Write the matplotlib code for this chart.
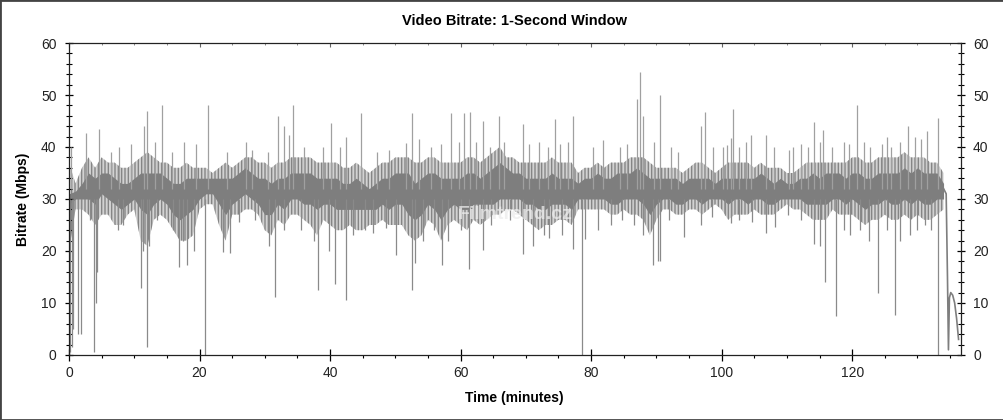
import numpy as np
import matplotlib
matplotlib.use("Agg")
import matplotlib.pyplot as plt
from matplotlib.ticker import MultipleLocator
from matplotlib.patches import Rectangle

plt.rcParams['font.family'] = ['Liberation Sans', 'DejaVu Sans']
plt.rcParams['hatch.linewidth'] = 1.0

# ---------------- data ----------------
minutes = list(range(0, 135))

core_lo = [29,30,30,30,29,31,30,29,28,29,
           30,28,27,29,30,29,27,26,27,28,
           30,31,31,29,27,29,30,31,30,29,
           27,27,29,28,30,30,29,29,28,29,
           29,28,28,28,28,28,28,28,29,28,
           29,29,27,26,27,29,28,26,28,29,
           28,28,29,29,29,29,30,30,30,30,
           29,29,28,28,29,29,29,28,30,30,
           30,30,30,29,29,30,30,30,29,27,
           29,30,30,29,29,30,30,29,30,30,
           30,29,30,30,29,30,30,29,29,30,
           30,30,30,29,29,29,29,30,30,29,
           30,29,28,29,29,30,29,29,30,29,
           30,29,29,30,30]
core_hi = [31,31.5,33,35,34,35,35,34,33,33,
           34,35,35,35,35,34,33,33,34,34,
           34,34,34,34,34,34,35,36,35,34,
           34,33,34,34,35,35,35,35,34,34,
           34,34,33,33,34,33,32,33,34,34,
           35,35,35,33,34,35,35,34,34,34,
           34,35,35,34,35,36,37,36,35,35,
           34,34,34,34,35,34,34,34,33,34,
           34,35,34,34,35,35,35,36,35,34,
           34,34,34,34,33,34,34,34,34,33,
           34,34,34,34,34,34,35,34,33,34,
           33,33,34,34,35,34,35,35,35,34,
           35,35,34,34,35,35,35,35,36,35,
           36,35,35,35,33]
outer_lo = [20,28,28,27,25,27,27,25,25,27,
            28,22,21,26,27,26,24,22,22,23,
            28,29,29,25,22,27,27,28,28,27,
            24,23,26,25,27,27,26,25,23,26,
            25,24,24,25,24,24,25,25,26,25,
            25,25,23,22,23,26,25,22,25,26,
            25,24,26,25,26,27,27,28,28,27,
            26,25,24,25,25,26,26,25,28,28,
            28,28,28,27,27,28,27,27,26,23,
            26,28,28,27,27,28,28,27,28,29,
            28,26,27,27,27,28,27,27,27,28,
            29,28,28,27,26,26,26,28,27,27,
            27,26,25,26,26,27,26,26,27,26,
            27,26,26,27,28]
outer_hi = [37,33,36,38,36,38,37,37,36,36,
            37,38,39,38,37,37,36,36,37,36,
            36,36,35,36,37,36,37,38,38,37,
            37,36,37,37,38,38,38,38,37,37,
            37,37,36,36,37,36,35,36,37,37,
            38,38,38,37,37,38,38,37,37,37,
            37,38,38,37,38,39,40,38,38,37,
            37,37,37,37,38,37,37,37,35,36,
            36,37,36,37,37,37,38,38,38,37,
            36,36,36,36,35,36,37,37,36,35,
            36,37,37,37,37,36,37,36,36,36,
            35,35,36,37,37,37,37,37,37,37,
            38,38,37,37,38,38,38,38,39,38,
            38,38,37,37,35]

# end of programme (credits)
tail_t = [134.0, 134.4, 134.6, 134.75, 134.9, 135.1, 135.4, 135.7, 136.0, 136.3]
tail_v = [32, 31, 15, 1, 11, 12, 11.5, 10, 7, 3]

# isolated peaks
peak_t = [0.3, 2.6, 4.65, 6.5, 7.6, 9.5, 11.5, 12.0, 13.2, 14.3, 15.8, 17.6, 19.5,
          21.35, 24.2, 27.1, 28.0, 30.5, 32.1, 33.0, 33.7, 34.4, 36.0, 38.9, 40.2,
          41.6, 42.4, 44.8, 47.2, 49.0, 51.6, 52.5, 53.6, 55.5, 57.0, 58.5, 59.8,
          60.5, 61.4, 62.4, 63.4, 64.5, 65.9, 66.6, 69.5, 70.5, 72.0, 73.4, 74.5,
          75.3, 76.4, 77.2, 80.3, 81.8, 84.5, 85.5, 87.1, 87.5, 87.9, 89.6, 90.6,
          92.3, 93.3, 96.8, 97.4, 98.6, 100.2, 100.8, 101.5, 101.8, 102.6, 103.7,
          104.5, 106.8, 108.0, 110.3, 111.0, 112.1, 113.2, 114.2, 115.0, 115.6,
          116.9, 118.7, 119.5, 120.8, 121.8, 122.8, 124.5, 125.4, 126.0, 127.3,
          128.5, 129.6, 130.6, 131.5, 133.1]
peak_v = [40, 42.7, 43.5, 39, 40, 40.5, 44, 47, 41, 48, 39, 41, 40.5,
          48, 39, 41, 39.5, 39, 46, 44, 42.3, 48, 40, 40, 44.6,
          40, 42, 46.5, 39, 39.5, 40.7, 46.5, 41.5, 40, 40.5, 46.5, 41,
          46.5, 46.8, 41, 45, 40, 46, 41, 44.5, 40.5, 41, 40, 45.4,
          40.5, 41, 46, 40, 41.3, 40, 40.5, 49.3, 54.5, 46, 41, 50,
          40, 39, 44, 46.8, 40, 40, 40.4, 41.7, 47.4, 40, 41,
          42.3, 42.3, 40, 39.5, 40, 40.5, 40, 44.9, 41, 43.3,
          40, 41, 40.5, 48, 41, 40, 40.5, 42, 40, 41,
          44, 42, 41.5, 43, 45.5]

# isolated drops
drop_t = [0.2, 0.4, 0.6, 1.4, 1.8, 3.2, 3.9, 4.1, 4.3, 7.5, 8.3, 11.1, 11.4, 12.0,
          12.3, 13.5, 16.0, 16.8, 17.5, 18.1, 19.2, 20.8, 23.65, 24.7, 26.0, 28.5,
          30.6, 31.5, 33.0, 35.5, 37.5, 38.1, 39.8, 40.8, 42.4, 43.5, 45.3, 46.6,
          48.6, 50.1, 52.5, 53.0, 54.2, 56.0, 57.1, 58.0, 60.0, 61.3, 63.4, 64.6,
          67.5, 69.5, 71.1, 72.8, 73.6, 75.5, 77.3, 78.6, 79.0, 81.1, 83.0, 84.7,
          86.5, 88.0, 89.5, 90.3, 90.6, 92.0, 94.3, 96.9, 98.5, 100.5, 101.4,
          102.7, 104.6, 106.8, 108.1, 110.2, 112.2, 114.2, 115.0, 115.9, 117.5,
          118.8, 119.7, 121.2, 122.6, 124.0, 125.3, 126.6, 127.3, 128.9, 130.0,
          131.2, 132.1, 133.1]
drop_v = [0.5, 1.5, 5, 4, 4, 26, 0.5, 10, 16, 24, 25, 12.8, 20, 1.6,
          21, 26, 24, 17, 22, 17.3, 20, 0, 19.9, 19.6, 25.5, 26,
          21, 11.2, 24, 24, 22, 12.5, 20, 13.7, 10.6, 23, 24, 23.5,
          24.5, 19.2, 12.5, 17.6, 22, 24, 17.3, 22, 24, 16.6, 20.2, 25,
          26, 19.5, 21, 23, 22.5, 23, 20.3, 0, 22.3, 24, 25, 26,
          25, 23, 17.3, 18, 18, 26, 22.7, 25, 26.5, 27, 25.3,
          26, 25.6, 23.4, 24.7, 27, 26, 21.4, 21, 14, 7.5,
          24, 23, 24, 22, 12, 24, 7.7, 22, 23, 24,
          25, 24, 0]

# ---------------- figure ----------------
fig = plt.figure(figsize=(10.04, 4.2), dpi=100)
fig.patch.set_facecolor('white')
ax = fig.add_axes([0.0687, 0.1548, 0.888, 0.7428])

dark = '#7e7e7e'

ax.fill_between(minutes, outer_lo, outer_hi, facecolor='#d2d2d2',
                edgecolor='#858585', hatch='|||||', lw=0)
ax.fill_between(minutes, core_lo, core_hi, color=dark, lw=0)
ax.vlines(peak_t, 32, peak_v, color='#a0a0a0', lw=0.9)
ax.vlines(drop_t, 30, drop_v, color='#8a8a8a', lw=0.9)
ax.plot(tail_t, tail_v, color=dark, lw=1.2)

ax.set_xlim(0, 136.6)
ax.set_ylim(0, 60)

# faint watermark
ax.text(0.50, 0.45, 'Filmtrend.cz', transform=ax.transAxes, fontsize=14,
        fontweight='bold', color='#ececec', alpha=0.75, ha='center', va='center')

# ticks
ax.xaxis.set_major_locator(MultipleLocator(20))
ax.xaxis.set_minor_locator(MultipleLocator(5))
ax.yaxis.set_major_locator(MultipleLocator(10))
ax.yaxis.set_minor_locator(MultipleLocator(2))
ax.tick_params(axis='x', which='major', direction='inout', length=8, width=0.9,
               top=False, labelsize=10, labelcolor='#222222', pad=4)
ax.tick_params(axis='x', which='minor', direction='out', length=2.5, width=0.8, top=False)
ax.tick_params(axis='y', which='major', direction='inout', length=6, width=0.9,
               left=True, right=True, labelleft=True, labelright=True,
               labelsize=10, labelcolor='#222222', pad=6)
ax.tick_params(axis='y', which='minor', direction='inout', length=4, width=0.8,
               left=True, right=True)

top = ax.secondary_xaxis('top')
top.xaxis.set_major_locator(MultipleLocator(20))
top.xaxis.set_minor_locator(MultipleLocator(5))
top.tick_params(axis='x', which='major', direction='in', length=3, width=0.8,
                labeltop=False, color='#666666')
top.tick_params(axis='x', which='minor', direction='in', length=1.5, width=0.7,
                color='#888888')
top.spines['top'].set_visible(False)

for s in ax.spines.values():
    s.set_linewidth(0.9)
    s.set_color('#222222')

ax.set_title('Video Bitrate: 1-Second Window', fontsize=10.5, fontweight='bold', pad=13)
ax.set_xlabel('Time (minutes)', fontsize=10, fontweight='bold', labelpad=8)
ax.set_ylabel('Bitrate (Mbps)', fontsize=10, fontweight='bold', labelpad=8)

fig.patches.append(Rectangle((0, 0), 1, 1, transform=fig.transFigure, fill=False,
                             edgecolor='#444444', lw=2.0))

fig.savefig('out.png', dpi=100)
